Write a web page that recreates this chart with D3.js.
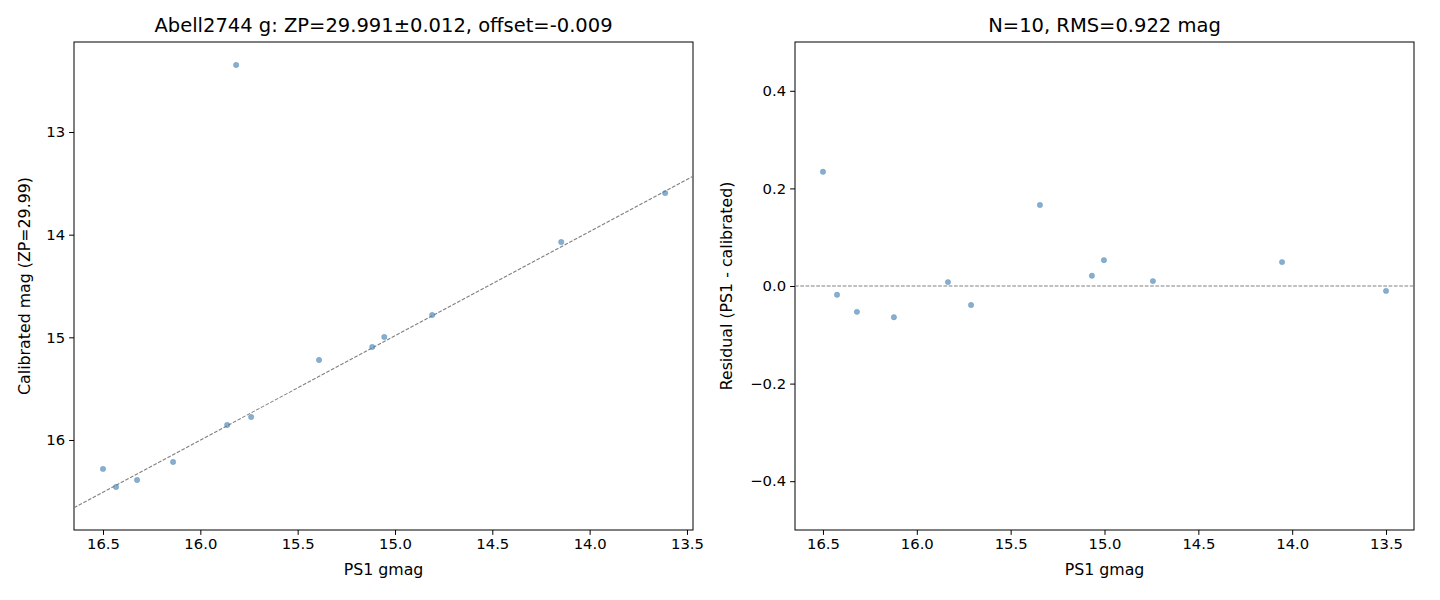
<!DOCTYPE html>
<html><head><meta charset="utf-8">
<script src="https://cdn.jsdelivr.net/npm/d3@7"></script>
<style>body{margin:0;background:#fff;font-family:"DejaVu Sans",sans-serif}</style>
</head><body><div id="chart"></div>
<script>
// left panel: PS1 gmag vs calibrated mag
const leftX = [16.5, 16.433, 16.325, 16.14, 15.862, 15.816, 15.739, 15.39, 15.117, 15.055, 14.809, 14.146, 13.612];
const leftY = [16.282, 16.458, 16.39, 16.214, 15.854, 12.347, 15.776, 15.221, 15.094, 14.997, 14.783, 14.072, 13.595];
const fitX = [16.649, 13.469];
const fitY = [16.66, 13.43];
// right panel: residuals
const resX = [16.5, 16.425, 16.319, 16.122, 15.834, 15.711, 15.344, 15.067, 15.003, 14.742, 14.054, 13.5];
const resY = [0.234, -0.018, -0.053, -0.064, 0.008, -0.039, 0.166, 0.021, 0.053, 0.010, 0.049, -0.010];
const leftTicksX = [16.5, 16.0, 15.5, 15.0, 14.5, 14.0, 13.5];
const leftTicksY = [13, 14, 15, 16];
const resTicksY = [-0.4, -0.2, 0.0, 0.2, 0.4];

const W = 1440, H = 600;
const svg = d3.select("#chart").append("svg").attr("width", W).attr("height", H);

function panel(opt) {
  const g = svg.append("g").attr("transform", `translate(${opt.left},42)`);
  const w = 619, h = 488;
  const x = d3.scaleLinear().domain(opt.xdom).range([0, w]);
  const y = d3.scaleLinear().domain(opt.ydom).range([h, 0]);

  g.append("g").attr("transform", `translate(0,${h})`)
    .call(d3.axisBottom(x).tickValues(leftTicksX).tickFormat(d3.format(".1f")).tickSizeOuter(0).tickSize(4.9).tickPadding(4))
    .call(a => a.selectAll("text").attr("font-size", 14.8).attr("font-family", "DejaVu Sans").attr("fill", "#000"));
  g.append("g")
    .call(d3.axisLeft(y).tickValues(opt.yticks).tickFormat(opt.yfmt).tickSizeOuter(0).tickSize(4.9).tickPadding(4))
    .call(a => a.selectAll("text").attr("font-size", 14.8).attr("font-family", "DejaVu Sans").attr("fill", "#000"));
  g.selectAll(".domain").remove();
  g.append("rect").attr("width", w).attr("height", h).attr("fill", "none").attr("stroke", "#000").attr("stroke-width", 1);

  const clip = "clip" + opt.left;
  g.append("clipPath").attr("id", clip).append("rect").attr("width", w).attr("height", h);
  g.append("path").datum(opt.line).attr("clip-path", `url(#${clip})`)
    .attr("d", d3.line().x(d => x(d[0])).y(d => y(d[1])))
    .attr("fill", "none").attr("stroke", "#808080").attr("stroke-width", 1.1).attr("stroke-dasharray", "3.7,1.6");

  g.selectAll("circle").data(opt.pts).join("circle")
    .attr("cx", d => x(d[0])).attr("cy", d => y(d[1])).attr("r", 2.7)
    .attr("fill", "steelblue").attr("fill-opacity", 0.65).attr("stroke", "steelblue").attr("stroke-opacity", 0.6).attr("stroke-width", 0.5);

  g.append("text").attr("x", w / 2).attr("y", -10).attr("text-anchor", "middle").attr("font-size", 19.5).text(opt.title);
  g.append("text").attr("x", w / 2).attr("y", h + 45).attr("text-anchor", "middle").attr("font-size", 15.8).text("PS1 gmag");
  g.append("text").attr("transform", "rotate(-90)").attr("x", -h / 2).attr("y", opt.ylabOff)
    .attr("text-anchor", "middle").attr("font-size", 15.8).text(opt.ylab);
}

panel({
  left: 74, xdom: [16.649, 13.469], ydom: [16.877, 12.123], yticks: leftTicksY, yfmt: d3.format("d"),
  pts: leftX.map((v, i) => [v, leftY[i]]), line: fitX.map((v, i) => [v, fitY[i]]),
  title: "Abell2744 g: ZP=29.991±0.012, offset=-0.009", ylab: "Calibrated mag (ZP=29.99)", ylabOff: -44
});
panel({
  left: 795, xdom: [16.649, 13.351], ydom: [-0.5, 0.5], yticks: resTicksY,
  yfmt: d => d3.format(".1f")(d).replace("-", "\u2212"),
  pts: resX.map((v, i) => [v, resY[i]]), line: [[16.649, 0], [13.351, 0]],
  title: "N=10, RMS=0.922 mag", ylab: "Residual (PS1 - calibrated)", ylabOff: -63
});
</script></body></html>
